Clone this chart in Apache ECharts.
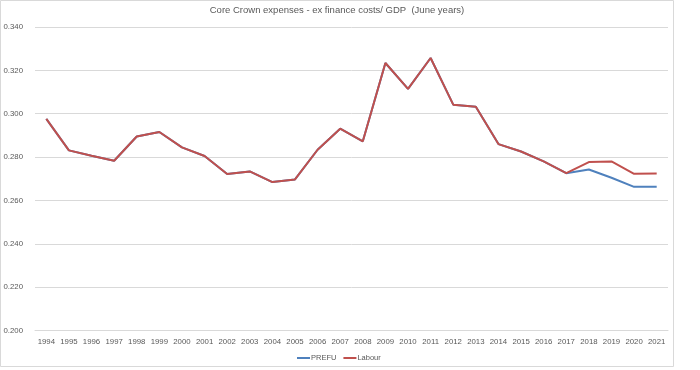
<!DOCTYPE html>
<html><head><meta charset="utf-8">
<script src="https://cdn.jsdelivr.net/npm/echarts@6/dist/echarts.min.js"></script>
<style>html,body{margin:0;padding:0;background:#fff}#c{width:700px;height:370px}</style>
</head><body><div id="c"></div>
<script>
const years = ['1994','1995','1996','1997','1998','1999','2000','2001','2002','2003','2004','2005','2006','2007','2008','2009','2010','2011','2012','2013','2014','2015','2016','2017','2018','2019','2020','2021'];
const prefu = [0.2976,0.2831,0.2806,0.2783,0.2895,0.2916,0.2845,0.2805,0.2722,0.2734,0.2685,0.2697,0.2834,0.2931,0.2873,0.3234,0.3115,0.3257,0.3042,0.3032,0.2860,0.2826,0.2780,0.2726,0.2743,0.2705,0.2663,0.2663];
const labour = [0.2976,0.2831,0.2806,0.2783,0.2895,0.2916,0.2845,0.2805,0.2722,0.2734,0.2685,0.2697,0.2834,0.2931,0.2873,0.3234,0.3115,0.3257,0.3042,0.3032,0.2860,0.2826,0.2780,0.2726,0.2777,0.2780,0.2723,0.2724];
const titleText = 'Core Crown expenses - ex finance costs/ GDP  (June years)';
const font = '"Liberation Sans",Arial,sans-serif';
const chart = echarts.init(document.getElementById('c'), null, {renderer:'canvas'});
chart.setOption({
  animation:false,
  backgroundColor:'#fff',
  title:{text:titleText,left:337,textAlign:'center',top:5,padding:0,textStyle:{fontFamily:font,fontSize:9.5,fontWeight:'normal',color:'#595959'}},
  graphic:[{type:'rect',shape:{x:0.5,y:0.5,width:673,height:366},style:{fill:null,stroke:'#d9d9d9',lineWidth:1},silent:true,z:-1}],
  grid:{left:35,right:32,top:27,bottom:39.4},
  legend:{data:['PREFU','Labour'],left:297,top:354,padding:0,icon:'rect',itemWidth:13,itemHeight:2,itemGap:7,
    textStyle:{fontFamily:font,fontSize:7.5,color:'#595959',padding:[0,0,0,-4]}},
  xAxis:{type:'category',data:years,boundaryGap:true,
    axisLine:{show:true,lineStyle:{color:'#d9d9d9'}},axisTick:{show:false},
    axisLabel:{fontFamily:font,fontSize:7.8,color:'#595959',margin:7,interval:0}},
  yAxis:{type:'value',min:0.2,max:0.34,interval:0.02,
    axisLine:{show:false},axisTick:{show:false},
    splitLine:{lineStyle:{color:'#d9d9d9'}},
    axisLabel:{fontFamily:font,fontSize:7.8,color:'#595959',margin:12,formatter:v=>v.toFixed(3)}},
  series:[
    {name:'PREFU',type:'line',data:prefu,symbol:'none',lineStyle:{color:'#4F81BD',width:2},itemStyle:{color:'#4F81BD'},z:2},
    {name:'Labour',type:'line',data:labour,symbol:'none',lineStyle:{color:'#C0504D',width:2},itemStyle:{color:'#C0504D'},z:3}
  ]
});
</script></body></html>
